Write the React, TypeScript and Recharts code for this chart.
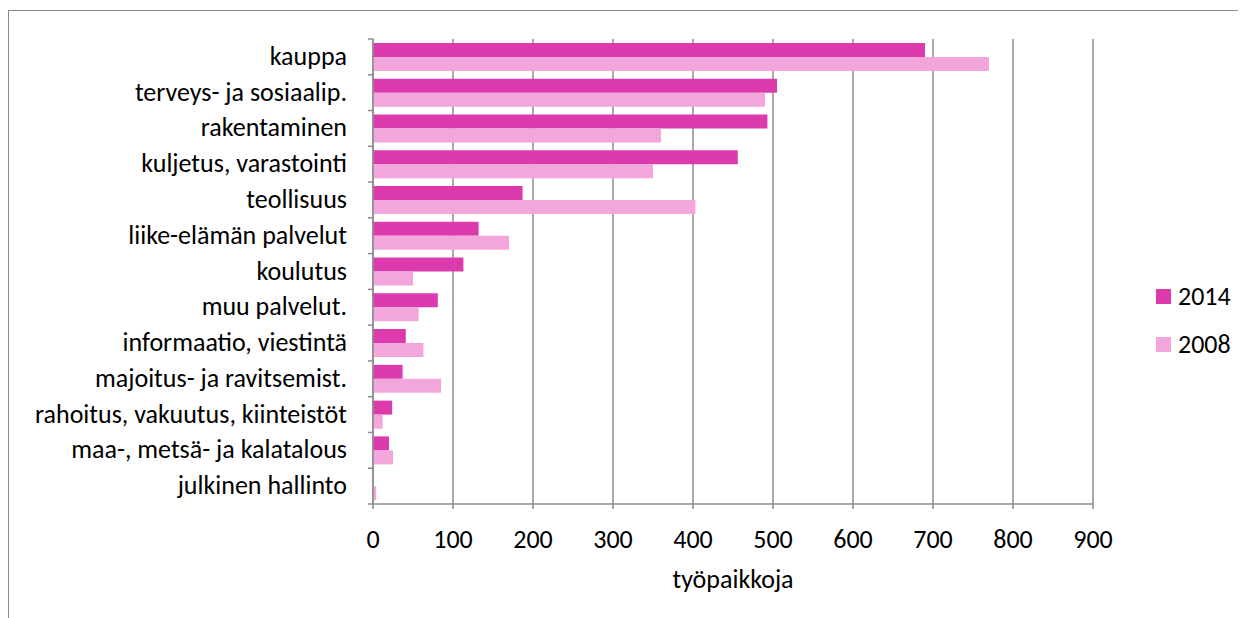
import React from 'react';
import { BarChart, Bar, XAxis, YAxis, CartesianGrid, Legend } from 'recharts';

const categories = [
  'kauppa',
  'terveys- ja sosiaalip.',
  'rakentaminen',
  'kuljetus, varastointi',
  'teollisuus',
  'liike-elämän palvelut',
  'koulutus',
  'muu palvelut.',
  'informaatio, viestintä',
  'majoitus- ja ravitsemist.',
  'rahoitus, vakuutus, kiinteistöt',
  'maa-, metsä- ja kalatalous',
  'julkinen hallinto',
];
const values2014 = [690, 505, 493, 456, 187, 132, 113, 81, 41, 37, 24, 20, 0];
const values2008 = [770, 490, 360, 350, 403, 170, 50, 57, 63, 85, 12, 25, 4];
const xTicks = [0, 100, 200, 300, 400, 500, 600, 700, 800, 900];
const axisTitle = 'työpaikkoja';

const data = categories.map((name, i) => ({ name, y2014: values2014[i], y2008: values2008[i] }));

const FONT = 'Calibri, Carlito, Lato, sans-serif';
const FS = 26;
const GRID = '#8c8c8c';
const C2014 = '#dc3aad';
const C2008 = '#f2a6db';

// label plus an Excel-style tick mark at the band edge
const CategoryTick = (props: any) => {
  const { x, y, payload, index } = props;
  const half = payload.offset ?? 17.9;
  const last = index === categories.length - 1;
  return (
    <g>
      <line x1={x - 5} x2={x} y1={y - half} y2={y - half} stroke={GRID} strokeWidth={1.5} />
      {last && <line x1={x - 5} x2={x} y1={y + half} y2={y + half} stroke={GRID} strokeWidth={1.5} />}
      <text x={x - 26} y={y} dy={8} textAnchor="end" fontSize={FS} fontFamily={FONT} fill="#000">
        {payload.value}
      </text>
    </g>
  );
};

const LegendContent = (props: any) => {
  const items = (props.payload || []).slice().reverse();
  return (
    <div style={{ fontFamily: FONT, fontSize: FS, color: '#000' }}>
      {items.map((p: any) => (
        <div key={p.value} style={{ display: 'flex', alignItems: 'center', height: 30, marginBottom: 18 }}>
          <span style={{ width: 15, height: 15, background: p.color, display: 'inline-block', marginRight: 7 }} />
          <span>{p.value}</span>
        </div>
      ))}
    </div>
  );
};

export default function App() {
  return (
    <div
      style={{
        position: 'relative',
        width: 1238,
        height: 620,
        marginTop: 2,
        borderTop: `1px solid ${GRID}`,
        borderLeft: `1px solid ${GRID}`,
        boxSizing: 'border-box',
        background: '#fff',
      }}
    >
      <BarChart
        width={1234}
        height={583}
        data={data}
        layout="vertical"
        margin={{ top: 28, right: 150, bottom: 0, left: 0 }}
        barCategoryGap="11%"
        barGap={0}
      >
        <CartesianGrid horizontal={false} stroke={GRID} strokeWidth={1.5} />
        <XAxis
          type="number"
          domain={[0, 900]}
          ticks={xTicks}
          interval={0}
          height={90}
          tickSize={5}
          tickMargin={21}
          axisLine={{ stroke: GRID, strokeWidth: 1.5 }}
          tickLine={{ stroke: GRID, strokeWidth: 1.5 }}
          tick={{ fontSize: FS, fontFamily: FONT, fill: '#000' }}
          label={{ value: axisTitle, position: 'insideBottom', offset: 6, fontSize: FS, fontFamily: FONT, fill: '#000' }}
        />
        <XAxis
          xAxisId="top"
          orientation="top"
          type="number"
          domain={[0, 900]}
          height={0}
          tick={false}
          tickLine={false}
          axisLine={{ stroke: GRID, strokeWidth: 1.5 }}
        />
        <YAxis
          type="category"
          dataKey="name"
          width={364}
          interval={0}
          tickSize={0}
          tickMargin={0}
          tickLine={false}
          axisLine={{ stroke: GRID, strokeWidth: 1.5 }}
          tick={<CategoryTick />}
        />
        <Legend
          layout="vertical"
          align="center"
          verticalAlign="middle"
          wrapperStyle={{ left: 1147, top: 270, width: 95 }}
          content={<LegendContent />}
        />
        <Bar dataKey="y2014" name="2014" fill={C2014} isAnimationActive={false} />
        <Bar dataKey="y2008" name="2008" fill={C2008} isAnimationActive={false} />
      </BarChart>
    </div>
  );
}
